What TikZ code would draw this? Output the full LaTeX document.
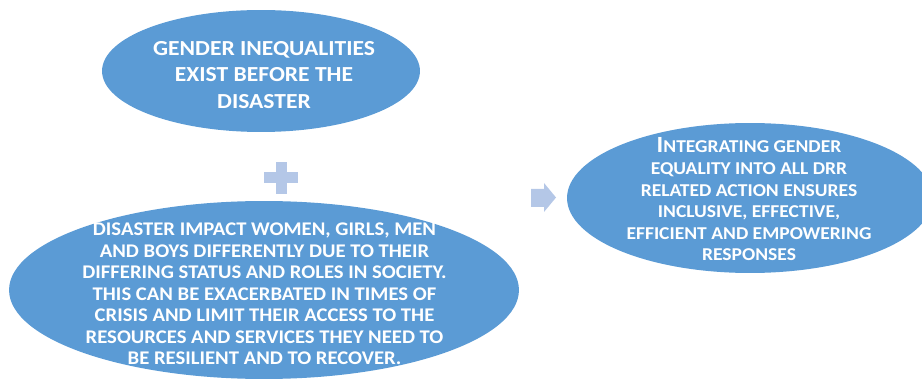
\documentclass[tikz,border=0pt]{standalone}
\usepackage{fontspec}
\setmainfont{Carlito}
\newfontfamily\obenfont[FakeStretch=1.10]{Carlito}
\newfontfamily\untenfont[FakeStretch=1.07]{Carlito}
\newfontfamily\rechtsfont[FakeStretch=1.08]{Carlito}
\usepackage{xcolor}
\definecolor{bla}{RGB}{91,155,213}
\definecolor{hel}{RGB}{180,199,231}
\usetikzlibrary{calc,shapes.geometric}

\begin{document}
\begin{tikzpicture}[x=0.02cm,y=-0.02cm,line cap=round]
	\tikzstyle{blase}=[ellipse,fill=bla,inner sep=0pt];
	\tikzstyle{oben}=[white,font=\obenfont\bfseries\fontsize{12.2}{15.3}\selectfont,align=center];
	\tikzstyle{unten}=[white,font=\untenfont\bfseries\fontsize{11}{12.25}\selectfont,align=center];
	\tikzstyle{rechts}=[white,font=\rechtsfont\bfseries\fontsize{10.3}{12.3}\selectfont,align=center];
	\tikzstyle{zeichen}=[fill=hel];
%<--------------------------------------------------------------------------->%

	\clip (0,0) rectangle (922,381);
	\coordinate (V) at (261,71);
	\coordinate (W) at (264,290);
	\coordinate (E) at (750,198);
	\coordinate (P) at (281,178);
	%% Bubbles
	\node[blase,minimum width=6.36cm,minimum height=2.44cm] (vorher) at (V) {};
	\node[blase,minimum width=10.2cm,minimum height=3.56cm] (wirkung) at (W) {};
	\node[blase,minimum width=7.32cm,minimum height=3cm] (ergebnis) at (E) {};
	%% Plus and arrow
	\fill[zeichen] ($(P)+(-17,-5.5)$) rectangle ($(P)+(17,5.5)$);
	\fill[zeichen] ($(P)+(-5.5,-16)$) rectangle ($(P)+(5.5,16)$);
	\fill[zeichen] (531,189) -- (544,189) -- (544,183) -- (556,197.5)
		-- (544,212) -- (544,207) -- (531,207) -- cycle;
	%% Texts
	\node[oben] (vorhertext) at ($(vorher)+(3,4)$) {GENDER INEQUALITIES\\EXIST BEFORE THE\\DISASTER};
	\node[unten] (wirkungtext) at ($(wirkung)+(0.5,4)$) {DISASTER IMPACT WOMEN, GIRLS, MEN\\AND BOYS DIFFERENTLY DUE TO THEIR\\DIFFERING STATUS AND ROLES IN SOCIETY.\\THIS CAN BE EXACERBATED IN TIMES OF\\CRISIS AND LIMIT THEIR ACCESS TO THE\\RESOURCES AND SERVICES THEY NEED TO\\BE RESILIENT AND TO RECOVER.};
	\node[rechts] (ergebnistext) at ($(ergebnis)+(-1,1.5)$) {{\fontsize{13.2}{12.3}\selectfont I}NTEGRATING GENDER\\EQUALITY INTO ALL DRR\\RELATED ACTION ENSURES\\INCLUSIVE, EFFECTIVE,\\EFFICIENT AND EMPOWERING\\RESPONSES};
\end{tikzpicture}
\end{document}
